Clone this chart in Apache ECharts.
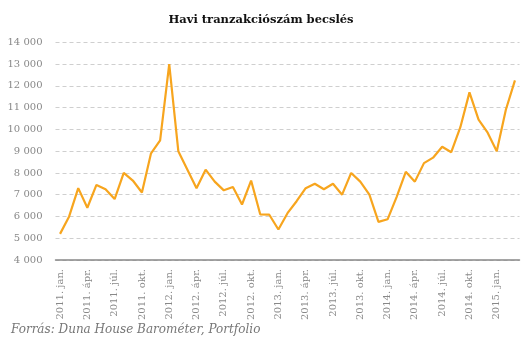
<!DOCTYPE html>
<html><head><meta charset="utf-8">
<script src="https://cdn.jsdelivr.net/npm/echarts@6/dist/echarts.min.js"></script>
<style>html,body{margin:0;padding:0;background:#fff}#c{width:531px;height:342px}</style>
</head><body><div id="c"></div>
<script>
const monthNames = ['jan.','febr.','márc.','ápr.','máj.','jún.','júl.','aug.','szept.','okt.','nov.','dec.'];
const years = [2011, 2012, 2013, 2014, 2015];
const monthsCount = 51;
const values = [
  5200, 6000, 7300, 6400, 7450, 7250, 6800, 8000, 7650, 7100, 8900, 9500,
  13000, 9000, 8150, 7300, 8150, 7600, 7200, 7350, 6550, 7650, 6100, 6080,
  5400, 6150, 6700, 7300, 7500, 7250, 7500, 7000, 8000, 7600, 7000, 5750,
  5870, 6900, 8050, 7600, 8450, 8700, 9200, 8950, 10100, 11700, 10450, 9850,
  9000, 10900, 12250
];
const categories = [];
for (let i = 0; i < monthsCount; i++) {
  categories.push(years[Math.floor(i / 12)] + '. ' + monthNames[i % 12]);
}
const titleText = 'Havi tranzakciószám becslés';
const sourceText = 'Forrás: Duna House Barométer, Portfolio';

const chart = echarts.init(document.getElementById('c'));
chart.setOption({
  animation: false,
  title: {
    text: titleText, left: 256, top: 9, textAlign: 'center',
    textStyle: {fontFamily: 'DejaVu Serif', fontWeight: 'bold', fontSize: 11.5, color: '#111'}
  },
  graphic: [{
    type: 'text', left: 11, top: 324,
    style: {text: sourceText, font: 'italic 12px "DejaVu Serif"', fill: '#777'}
  }],
  grid: {left: 55.5, right: 11.5, top: 42.3, bottom: 82},
  xAxis: {
    type: 'category', data: categories, boundaryGap: true,
    axisLine: {lineStyle: {color: '#888', width: 1.5}},
    axisTick: {show: false},
    axisLabel: {
      interval: 2, rotate: 90, margin: 9,
      fontFamily: 'DejaVu Serif', fontSize: 10, color: '#888'
    },
    splitLine: {show: false}
  },
  yAxis: {
    type: 'value', min: 4000, max: 14000, interval: 1000,
    axisLine: {show: false}, axisTick: {show: false},
    axisLabel: {
      margin: 13, fontFamily: 'DejaVu Serif', fontSize: 10, color: '#888',
      formatter: v => String(v).replace(/\B(?=(\d{3})+(?!\d))/g, ' ')
    },
    splitLine: {lineStyle: {color: '#cfcfcf', type: [4, 3], width: 1}}
  },
  series: [{
    type: 'line', data: values, symbol: 'none',
    lineStyle: {color: '#F7A51E', width: 2.2},
    itemStyle: {color: '#F7A51E'}
  }]
});
</script></body></html>
